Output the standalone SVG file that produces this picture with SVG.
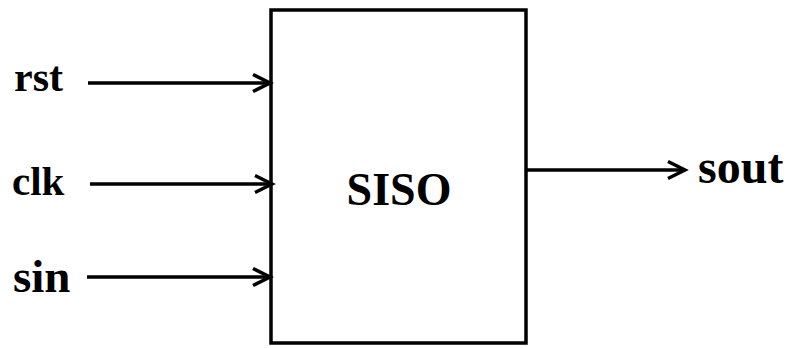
<svg xmlns="http://www.w3.org/2000/svg" width="791" height="348" viewBox="0 0 791 348">
<defs>
<marker id="ah" markerUnits="userSpaceOnUse" markerWidth="24" markerHeight="24" refX="20" refY="12" orient="auto">
<path d="M3,3.5 L20,12 L3,20.5" fill="none" stroke="#000" stroke-width="3.5"/>
</marker>
<style>
.lbl{font-family:"Liberation Serif","Times New Roman",serif;font-weight:bold;font-size:46px;fill:#000}
.wire{stroke:#000;stroke-width:3.5;fill:none}
</style>
</defs>
<rect width="791" height="348" fill="#fff"/>
<g id="siso">
<rect x="271" y="10" width="255" height="333" fill="#fff" stroke="#000" stroke-width="3.5"/>
<text class="lbl" x="399" y="205" text-anchor="middle">SISO</text>
</g>
<g id="rst"><text class="lbl" x="14" y="91" style="font-size:42px">rst</text></g>
<g id="clk"><text class="lbl" x="12" y="195" style="font-size:41px">clk</text></g>
<g id="sin"><text class="lbl" x="13" y="292" style="font-size:47px">sin</text></g>
<g id="sout"><text class="lbl" x="698" y="183" style="font-size:48px">sout</text></g>
<g id="connectors">
<line class="wire" x1="88" y1="83" x2="270" y2="83" marker-end="url(#ah)"/>
<line class="wire" x1="90" y1="184" x2="272" y2="184" marker-end="url(#ah)"/>
<line class="wire" x1="87" y1="277" x2="270" y2="277" marker-end="url(#ah)"/>
<line class="wire" x1="526" y1="170" x2="685" y2="170" marker-end="url(#ah)"/>
</g>
</svg>
